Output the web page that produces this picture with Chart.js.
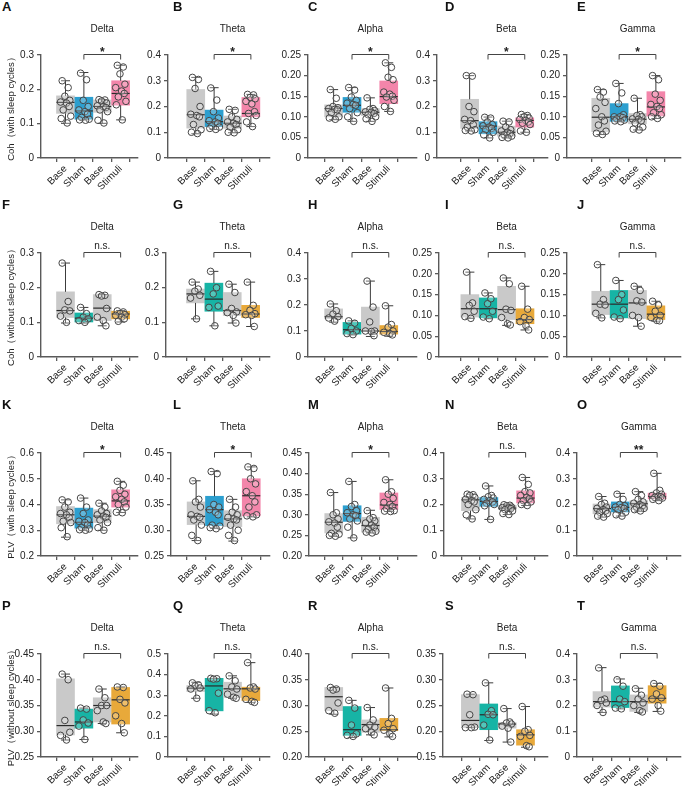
<!DOCTYPE html>
<html><head><meta charset="utf-8">
<script src="https://cdn.jsdelivr.net/npm/chart.js@4.4.0/dist/chart.umd.min.js"></script>
<style>
body{margin:0;background:#fff;width:685px;height:786px;overflow:hidden;position:relative;font-family:"Liberation Sans",Arial,sans-serif}
.pc{position:absolute}
.lt{position:absolute;font-weight:bold;font-size:13px;color:#111;line-height:13px}
</style></head><body>
<script>
// ---------- data ----------
const PANELS = ['A','B','C','D','E','F','G','H','I','J','K','L','M','N','O','P','Q','R','S','T'];
const BANDS = ['Delta','Theta','Alpha','Beta','Gamma'];
const GROUPS = ['Base','Sham','Base','Stimuli'];
const ROW_LABELS = ['Coh（with sleep cycles）','Coh（without sleep cycles）','PLV（with sleep cycles）','PLV（without sleep cycles）'];
const SIG = ['*','*','*','*','*','n.s.','n.s.','n.s.','n.s.','n.s.','*','*','*','n.s.','**','n.s.','n.s.','n.s.','n.s.','n.s.'];
const Y_MIN = [0,0,0,0,0, 0,0,0,0,0, 0.2,0.25,0.2,0,0, 0.25,0,0.2,0.15,0];
const Y_MAX = [0.3,0.4,0.25,0.4,0.25, 0.3,0.3,0.4,0.25,0.25, 0.6,0.45,0.45,0.4,0.4, 0.45,0.5,0.4,0.35,0.4];
const Y_STEP = [0.1,0.1,0.05,0.1,0.05, 0.1,0.1,0.1,0.05,0.05, 0.1,0.05,0.05,0.1,0.1, 0.05,0.1,0.05,0.05,0.1];

// box stats per group: [min, q1, median, q3, max]
const BOX_A = [[0.101,0.130,0.162,0.181,0.225],[0.111,0.113,0.137,0.177,0.249],[0.101,0.133,0.150,0.169,0.170],[0.111,0.154,0.188,0.225,0.270]];
const BOX_B = [[0.094,0.116,0.168,0.266,0.313],[0.111,0.122,0.141,0.186,0.273],[0.098,0.115,0.135,0.163,0.189],[0.122,0.160,0.173,0.235,0.247]];
const BOX_C = [[0.093,0.100,0.120,0.129,0.166],[0.089,0.111,0.128,0.147,0.171],[0.089,0.103,0.111,0.120,0.146],[0.113,0.132,0.149,0.187,0.231]];
const BOX_D = [[0.105,0.115,0.145,0.228,0.320],[0.078,0.094,0.124,0.141,0.159],[0.078,0.085,0.100,0.124,0.143],[0.100,0.120,0.146,0.156,0.169]];
const BOX_E = [[0.057,0.064,0.099,0.145,0.166],[0.088,0.089,0.100,0.132,0.181],[0.068,0.083,0.094,0.108,0.145],[0.096,0.102,0.124,0.161,0.200]];
const BOX_F = [[0.098,0.114,0.134,0.188,0.271],[0.098,0.101,0.112,0.127,0.143],[0.090,0.105,0.141,0.180,0.180],[0.101,0.110,0.124,0.132,0.134]];
const BOX_G = [[0.110,0.156,0.182,0.196,0.216],[0.090,0.132,0.167,0.213,0.247],[0.098,0.120,0.134,0.186,0.210],[0.088,0.114,0.124,0.149,0.216]];
const BOX_H = [[0.134,0.147,0.155,0.185,0.204],[0.085,0.088,0.105,0.133,0.139],[0.079,0.098,0.100,0.192,0.292],[0.080,0.088,0.098,0.121,0.197]];
const BOX_I = [[0.093,0.096,0.116,0.150,0.204],[0.092,0.094,0.116,0.142,0.154],[0.076,0.090,0.114,0.170,0.190],[0.065,0.080,0.090,0.116,0.170]];
const BOX_J = [[0.094,0.102,0.127,0.158,0.222],[0.092,0.094,0.127,0.160,0.184],[0.074,0.092,0.130,0.160,0.170],[0.086,0.090,0.103,0.123,0.134]];
const BOX_K = [[0.273,0.325,0.360,0.392,0.418],[0.300,0.308,0.331,0.386,0.425],[0.300,0.330,0.355,0.380,0.405],[0.369,0.390,0.414,0.457,0.490]];
const BOX_L = [[0.280,0.311,0.327,0.355,0.396],[0.304,0.309,0.340,0.366,0.414],[0.279,0.307,0.322,0.338,0.360],[0.326,0.328,0.367,0.400,0.423]];
const BOX_M = [[0.248,0.256,0.282,0.303,0.354],[0.244,0.284,0.303,0.322,0.381],[0.256,0.258,0.274,0.294,0.311],[0.308,0.313,0.324,0.353,0.385]];
const BOX_N = [[0.144,0.176,0.218,0.227,0.240],[0.142,0.193,0.212,0.227,0.272],[0.161,0.180,0.186,0.197,0.199],[0.196,0.206,0.225,0.253,0.305]];
const BOX_O = [[0.151,0.164,0.184,0.202,0.231],[0.155,0.171,0.189,0.210,0.243],[0.174,0.180,0.203,0.215,0.250],[0.215,0.222,0.231,0.244,0.321]];
const BOX_P = [[0.283,0.293,0.311,0.402,0.411],[0.284,0.306,0.318,0.343,0.345],[0.315,0.318,0.350,0.365,0.382],[0.297,0.314,0.361,0.385,0.386]];
const BOX_Q = [[0.285,0.318,0.334,0.347,0.363],[0.208,0.224,0.345,0.382,0.382],[0.285,0.289,0.331,0.363,0.394],[0.265,0.274,0.331,0.339,0.458]];
const BOX_R = [[0.283,0.290,0.317,0.335,0.335],[0.238,0.242,0.253,0.298,0.310],[0.243,0.248,0.263,0.272,0.296],[0.239,0.251,0.253,0.275,0.334]];
const BOX_S = [[0.207,0.207,0.221,0.271,0.272],[0.182,0.203,0.232,0.253,0.294],[0.179,0.206,0.214,0.217,0.244],[0.169,0.173,0.193,0.203,0.248]];
const BOX_T = [[0.173,0.194,0.215,0.254,0.347],[0.187,0.192,0.215,0.276,0.303],[0.173,0.177,0.215,0.241,0.267],[0.177,0.209,0.228,0.277,0.286]];

// individual subject values per group
const PTS_A = [[0.225,0.205,0.180,0.168,0.163,0.160,0.150,0.140,0.122,0.115,0.102],[0.247,0.228,0.168,0.150,0.140,0.135,0.128,0.118,0.113,0.111,0.110],[0.170,0.169,0.166,0.160,0.152,0.150,0.147,0.140,0.135,0.110,0.102],[0.270,0.265,0.245,0.215,0.205,0.195,0.188,0.178,0.165,0.155,0.111]];
const PTS_B = [[0.313,0.305,0.270,0.200,0.170,0.165,0.160,0.130,0.110,0.100,0.095],[0.272,0.225,0.180,0.155,0.145,0.140,0.135,0.125,0.120,0.115,0.111],[0.189,0.185,0.160,0.150,0.140,0.135,0.130,0.120,0.110,0.100,0.098],[0.247,0.245,0.235,0.230,0.220,0.210,0.180,0.173,0.165,0.140,0.122]];
const PTS_C = [[0.166,0.145,0.125,0.122,0.120,0.118,0.117,0.110,0.100,0.097,0.094],[0.171,0.165,0.148,0.140,0.133,0.130,0.128,0.120,0.110,0.100,0.089],[0.146,0.120,0.118,0.115,0.112,0.111,0.108,0.105,0.100,0.095,0.089],[0.231,0.220,0.196,0.190,0.160,0.155,0.150,0.148,0.140,0.125,0.113]];
const PTS_D = [[0.320,0.318,0.200,0.180,0.150,0.145,0.130,0.120,0.110,0.107,0.105],[0.158,0.155,0.140,0.130,0.125,0.120,0.115,0.110,0.100,0.090,0.078],[0.143,0.140,0.120,0.110,0.105,0.100,0.095,0.090,0.085,0.080,0.078],[0.169,0.165,0.160,0.155,0.150,0.146,0.140,0.135,0.130,0.105,0.100]];
const PTS_E = [[0.166,0.160,0.148,0.135,0.120,0.100,0.090,0.080,0.065,0.060,0.057],[0.181,0.158,0.132,0.105,0.100,0.100,0.098,0.095,0.092,0.090,0.088],[0.145,0.105,0.103,0.100,0.095,0.094,0.090,0.085,0.075,0.070,0.068],[0.200,0.190,0.155,0.140,0.130,0.125,0.120,0.110,0.105,0.100,0.096]];
const PTS_F = [[0.271,0.160,0.136,0.133,0.118,0.100],[0.143,0.125,0.115,0.110,0.105,0.100],[0.180,0.178,0.176,0.140,0.115,0.105,0.090],[0.133,0.130,0.125,0.122,0.120,0.115,0.110,0.103]];
const PTS_G = [[0.216,0.196,0.190,0.178,0.170,0.110],[0.247,0.200,0.182,0.147,0.143,0.090],[0.210,0.186,0.140,0.130,0.128,0.120,0.098],[0.216,0.149,0.135,0.125,0.122,0.120,0.088]];
const PTS_H = [[0.204,0.178,0.165,0.155,0.150,0.138],[0.139,0.130,0.110,0.100,0.090,0.086],[0.292,0.192,0.135,0.100,0.100,0.098,0.082],[0.197,0.125,0.115,0.100,0.095,0.090,0.085]];
const PTS_I = [[0.204,0.130,0.124,0.110,0.097,0.093],[0.154,0.140,0.128,0.110,0.096,0.092],[0.190,0.176,0.115,0.112,0.095,0.080,0.077],[0.170,0.115,0.095,0.090,0.085,0.075,0.065]];
const PTS_J = [[0.222,0.138,0.127,0.125,0.105,0.094],[0.184,0.150,0.138,0.113,0.096,0.092],[0.170,0.160,0.135,0.132,0.100,0.095,0.074],[0.134,0.125,0.110,0.100,0.095,0.088,0.087]];
const PTS_K = [[0.418,0.410,0.390,0.370,0.365,0.360,0.350,0.335,0.330,0.310,0.275],[0.425,0.390,0.365,0.340,0.335,0.330,0.320,0.310,0.305,0.302,0.300],[0.405,0.390,0.375,0.365,0.360,0.355,0.350,0.340,0.330,0.310,0.300],[0.490,0.475,0.455,0.440,0.430,0.420,0.410,0.400,0.390,0.370,0.368]];
const PTS_L = [[0.396,0.360,0.355,0.345,0.330,0.327,0.325,0.320,0.310,0.290,0.280],[0.414,0.410,0.350,0.345,0.340,0.335,0.330,0.310,0.308,0.305,0.303],[0.360,0.345,0.335,0.330,0.325,0.322,0.320,0.310,0.300,0.290,0.280],[0.423,0.420,0.400,0.390,0.375,0.367,0.355,0.345,0.330,0.328,0.326]];
const PTS_M = [[0.354,0.305,0.300,0.290,0.283,0.280,0.270,0.255,0.253,0.250,0.248],[0.381,0.325,0.320,0.310,0.305,0.300,0.298,0.290,0.285,0.270,0.244],[0.310,0.293,0.290,0.285,0.280,0.275,0.270,0.265,0.260,0.258,0.256],[0.385,0.356,0.350,0.340,0.330,0.325,0.320,0.315,0.310,0.309,0.308]];
const PTS_N = [[0.240,0.238,0.235,0.228,0.220,0.215,0.210,0.200,0.180,0.160,0.144],[0.272,0.235,0.230,0.225,0.220,0.215,0.210,0.205,0.200,0.195,0.142],[0.199,0.197,0.195,0.190,0.188,0.186,0.184,0.180,0.175,0.165,0.161],[0.305,0.278,0.250,0.245,0.235,0.228,0.222,0.215,0.210,0.200,0.196]];
const PTS_O = [[0.231,0.205,0.200,0.190,0.185,0.180,0.175,0.170,0.165,0.155,0.151],[0.240,0.220,0.200,0.195,0.190,0.188,0.185,0.180,0.170,0.160,0.155],[0.250,0.235,0.220,0.210,0.205,0.200,0.195,0.190,0.185,0.180,0.175],[0.321,0.255,0.245,0.240,0.235,0.232,0.230,0.228,0.225,0.220,0.215]];
const PTS_P = [[0.411,0.400,0.321,0.298,0.292,0.283],[0.345,0.343,0.322,0.316,0.310,0.284],[0.382,0.365,0.350,0.350,0.340,0.318,0.315],[0.386,0.385,0.362,0.355,0.330,0.315,0.297]];
const PTS_Q = [[0.360,0.350,0.345,0.335,0.330,0.285],[0.382,0.380,0.378,0.310,0.225,0.215],[0.394,0.370,0.340,0.330,0.305,0.290,0.285],[0.458,0.340,0.335,0.330,0.280,0.270,0.265]];
const PTS_R = [[0.335,0.332,0.330,0.305,0.290,0.285],[0.310,0.295,0.262,0.245,0.242,0.240],[0.296,0.272,0.262,0.258,0.255,0.248,0.243],[0.334,0.275,0.265,0.255,0.252,0.245,0.240]];
const PTS_S = [[0.272,0.271,0.232,0.208,0.207,0.207],[0.294,0.240,0.233,0.232,0.212,0.183],[0.244,0.218,0.216,0.214,0.210,0.206,0.179],[0.248,0.203,0.200,0.192,0.190,0.172,0.170]];
const PTS_T = [[0.346,0.225,0.220,0.210,0.200,0.173],[0.300,0.275,0.225,0.215,0.190,0.187],[0.265,0.240,0.225,0.210,0.200,0.180,0.175],[0.285,0.275,0.245,0.230,0.225,0.200,0.178]];

const BOX = [BOX_A,BOX_B,BOX_C,BOX_D,BOX_E,BOX_F,BOX_G,BOX_H,BOX_I,BOX_J,BOX_K,BOX_L,BOX_M,BOX_N,BOX_O,BOX_P,BOX_Q,BOX_R,BOX_S,BOX_T];
const PTS = [PTS_A,PTS_B,PTS_C,PTS_D,PTS_E,PTS_F,PTS_G,PTS_H,PTS_I,PTS_J,PTS_K,PTS_L,PTS_M,PTS_N,PTS_O,PTS_P,PTS_Q,PTS_R,PTS_S,PTS_T];

// ---------- layout / style ----------
const COLORS_WITH = ['#c9c9c9','#2c9fcf','#c9c9c9','#f385aa'];
const COLORS_WITHOUT = ['#c9c9c9','#17b4a5','#c9c9c9','#e8a93a'];
const AXIS_X = [[41,168,308,437,567],[41,166,308,439,567],[41,171,309,444,577],[41,168,309,443,577]];
const CAT0 = [57.5,188,324,462,593];
const AXIS_END = [138,270,417,548,681];
const TOP_Y = [55,253,453,654];
const BOT_Y = [158,357,556,757];
const LETTER_X = [2,173,308,445,577];
const SPACING = 24.5;
const JIT = [-0.2,0.16,-0.04,0.26,-0.3,0.06,0.22,-0.14,0.32,-0.26,0.1,-0.08];
const FONT = '"Liberation Sans", Arial, sans-serif';
Chart.defaults.font.family = FONT;

const boxPlugin = {
  id: 'boxExtras',
  afterDatasetDraw(chart, args) {
    if (args.index !== 0) return;
    const o = chart.options.plugins.boxExtras;
    const xs = chart.scales.x, ys = chart.scales.y, ctx = chart.ctx;
    ctx.save();
    o.stats.forEach((b, i) => {
      const x = xs.getPixelForValue(i);
      const [mn, q1, md, q3, mx] = b.map(v => ys.getPixelForValue(v));
      ctx.strokeStyle = '#3c3c3c';
      ctx.lineWidth = 1;
      ctx.beginPath();
      ctx.moveTo(x, q3); ctx.lineTo(x, mx);
      ctx.moveTo(x, q1); ctx.lineTo(x, mn);
      ctx.moveTo(x - 4.5, mx); ctx.lineTo(x + 4.5, mx);
      ctx.moveTo(x - 4.5, mn); ctx.lineTo(x + 4.5, mn);
      ctx.stroke();
      ctx.beginPath();
      ctx.lineWidth = 1.2;
      ctx.strokeStyle = '#2a2a2a';
      ctx.moveTo(x - 9, md); ctx.lineTo(x + 9, md);
      ctx.stroke();
    });
    ctx.restore();
  },
  afterDraw(chart) {
    const o = chart.options.plugins.boxExtras;
    const xs = chart.scales.x, ctx = chart.ctx, top = chart.chartArea.top;
    ctx.save();
    ctx.fillStyle = '#222';
    ctx.textAlign = 'center';
    ctx.textBaseline = 'middle';
    ctx.font = '10px ' + FONT;
    ctx.fillText(o.title, xs.getPixelForValue(2), top - 26);
    const x1 = xs.getPixelForValue(1), x2 = xs.getPixelForValue(3), y = Math.round(top) - 0.5;
    ctx.strokeStyle = '#444'; ctx.lineWidth = 1;
    ctx.beginPath();
    ctx.moveTo(x1, y + 5); ctx.lineTo(x1, y); ctx.lineTo(x2, y); ctx.lineTo(x2, y + 5);
    ctx.stroke();
    ctx.textBaseline = 'alphabetic';
    if (o.sig === 'n.s.') { ctx.font = '10px ' + FONT; ctx.fillText(o.sig, (x1 + x2) / 2, y - 4); }
    else { ctx.font = 'bold 12px ' + FONT; ctx.fillText(o.sig, (x1 + x2) / 2, y + 1); }
    ctx.restore();
  }
};

for (let r = 0; r < 4; r++) {
  for (let c = 0; c < 5; c++) {
    const idx = r * 5 + c;
    const ax = AXIS_X[r][c];
    const left = c === 0 ? 0 : ax - 42;
    const yW = ax - left;
    const W = AXIS_END[c] - left + 8;
    const plotH = BOT_Y[r] - TOP_Y[r];
    const top = TOP_Y[r] - 40;
    const H = 40 + plotH + 40;
    const div = document.createElement('div');
    div.className = 'pc';
    div.style.left = left + 'px'; div.style.top = top + 'px';
    div.style.width = W + 'px'; div.style.height = H + 'px';
    const cv = document.createElement('canvas');
    cv.width = W; cv.height = H;
    cv.style.width = W + 'px'; cv.style.height = H + 'px';
    div.appendChild(cv);
    document.body.appendChild(div);

    const lt = document.createElement('div');
    lt.className = 'lt';
    lt.textContent = PANELS[idx];
    lt.style.left = LETTER_X[c] + 'px';
    lt.style.top = (TOP_Y[r] - 55) + 'px';
    document.body.appendChild(lt);

    const colors = (r % 2 === 0) ? COLORS_WITH : COLORS_WITHOUT;
    const xMin = -(CAT0[c] - ax) / SPACING;
    const xMax = xMin + (AXIS_END[c] - ax) / SPACING;
    const dec = Y_STEP[idx] < 0.1 ? 2 : 1;
    const pts = [];
    PTS[idx].forEach((g, i) => g.forEach((v, j) => pts.push({x: i + JIT[j % JIT.length] * 0.9, y: v})));

    new Chart(cv, {
      type: 'bar',
      data: {
        datasets: [
          {type: 'bar', data: BOX[idx].map((b, i) => ({x: i, y: [b[1], b[3]]})),
           backgroundColor: colors, borderWidth: 0, barThickness: 18, order: 2},
          {type: 'scatter', data: pts, pointRadius: 3.3, pointHoverRadius: 3.3, pointBorderWidth: 1,
           pointBorderColor: '#454545', pointBackgroundColor: 'rgba(255,255,255,0.25)', order: 1}
        ]
      },
      options: {
        responsive: false, animation: false, devicePixelRatio: 1,
        layout: {padding: {top: 40, right: 8, left: 0, bottom: 0}},
        plugins: {legend: {display: false}, tooltip: {enabled: false},
          boxExtras: {stats: BOX[idx], title: BANDS[c], sig: SIG[idx]}},
        scales: {
          x: {type: 'linear', min: xMin, max: xMax,
            afterBuildTicks: s => { s.ticks = [0, 1, 2, 3].map(v => ({value: v})); },
            afterFit: s => { s.height = 40; },
            ticks: {callback: v => GROUPS[v], autoSkip: false, minRotation: 45, maxRotation: 45,
              font: {size: 10}, color: '#222', padding: 1},
            grid: {display: true, drawOnChartArea: false, tickLength: 4, color: '#5a5a5a', lineWidth: 1.3},
            border: {color: '#5a5a5a', width: 1.4}},
          y: {type: 'linear', min: Y_MIN[idx], max: Y_MAX[idx],
            afterFit: s => { s.width = yW; },
            ticks: {stepSize: Y_STEP[idx], callback: v => (Math.abs(v) < 1e-9 ? '0' : v.toFixed(dec)),
              font: {size: 10}, color: '#222', padding: 3},
            grid: {display: true, drawOnChartArea: false, tickLength: 4, color: '#5a5a5a', lineWidth: 1.3},
            border: {color: '#5a5a5a', width: 1.4},
            title: {display: c === 0, text: ROW_LABELS[r], font: {size: 9.5}, color: '#222', padding: {top: 6, bottom: 0}}}
        }
      },
      plugins: [boxPlugin]
    });
  }
}
</script>
</body></html>
